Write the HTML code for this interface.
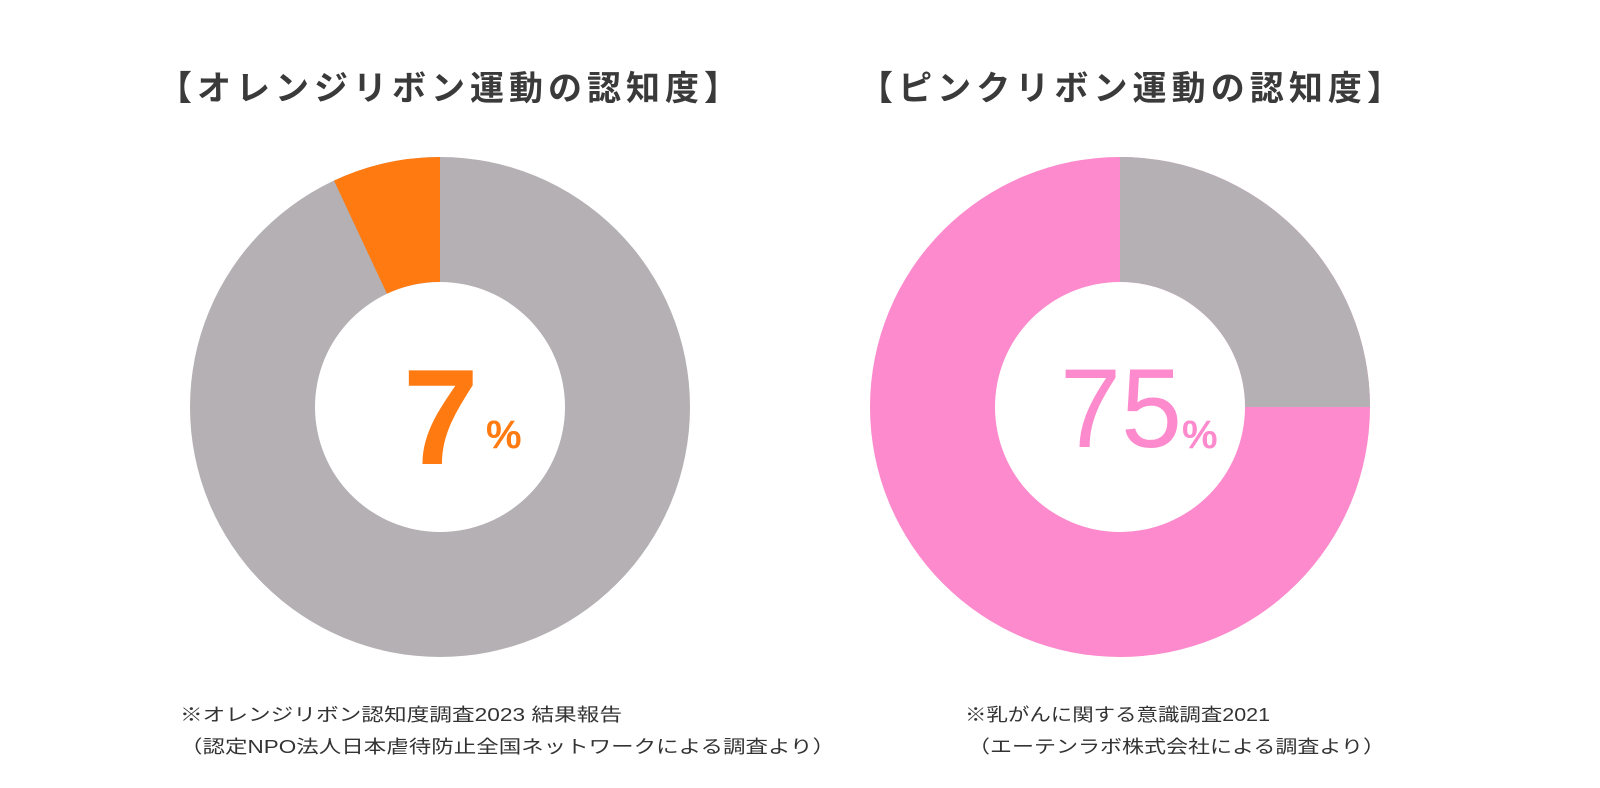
<!DOCTYPE html>
<html><head><meta charset="utf-8"><style>html,body{margin:0;padding:0;background:#fff}svg{display:block}</style></head>
<body>
<svg width="1600" height="788" viewBox="0 0 1600 788" xmlns="http://www.w3.org/2000/svg" font-family="'Liberation Sans','Noto Sans CJK JP',sans-serif">
<rect width="1600" height="788" fill="#fff"/>
<circle cx="440" cy="407" r="250" fill="#b4b0b3"/>
<path d="M440 157 A250 250 0 0 0 334.0 180.6 L387.0 293.8 A125 125 0 0 1 440 282 Z" fill="#ff7a10"/>
<circle cx="440" cy="407" r="125" fill="#fff"/>
<circle cx="1120" cy="407" r="250" fill="#fc8acc"/>
<path d="M1120 157 A250 250 0 0 1 1370 407 L1245 407 A125 125 0 0 0 1120 282 Z" fill="#b4b0b3"/>
<circle cx="1120" cy="407" r="125" fill="#fff"/>
<text x="158" y="100" font-size="34" font-weight="bold" fill="#3a3a3a" textLength="580" lengthAdjust="spacing">【オレンジリボン運動の認知度】</text>
<text x="859" y="100" font-size="34" font-weight="bold" fill="#3a3a3a" textLength="542" lengthAdjust="spacing">【ピンクリボン運動の認知度】</text>
<text x="403" y="464" font-size="136" fill="#ff7a10" font-weight="bold">7</text>
<text x="486" y="448" font-size="40" fill="#ff7a10" font-weight="bold">%</text>
<text x="1060" y="447" font-size="112" fill="#fc8acc" textLength="122" lengthAdjust="spacingAndGlyphs">75</text>
<text x="1182" y="448" font-size="40" fill="#fc8acc" font-weight="bold">%</text>
<g font-size="18" fill="#333">
<text x="180" y="721" textLength="442" lengthAdjust="spacingAndGlyphs">※オレンジリボン認知度調査2023 結果報告</text>
<text x="180" y="753" textLength="655" lengthAdjust="spacingAndGlyphs">（認定NPO法人日本虐待防止全国ネットワークによる調査より）</text>
<text x="965" y="721" textLength="305" lengthAdjust="spacingAndGlyphs">※乳がんに関する意識調査2021</text>
<text x="968" y="753" textLength="417" lengthAdjust="spacingAndGlyphs">（エーテンラボ株式会社による調査より）</text>
</g>
</svg>
</body></html>
